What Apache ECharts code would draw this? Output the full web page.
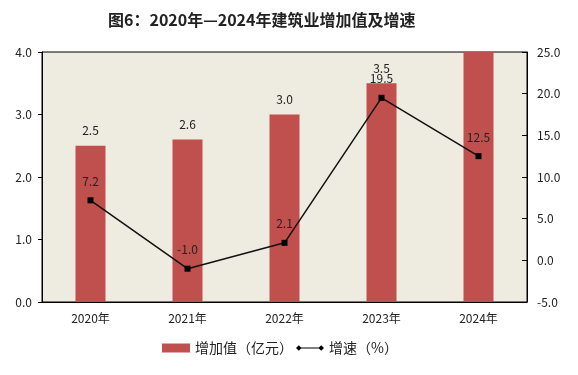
<!DOCTYPE html>
<html>
<head>
<meta charset="utf-8">
<script src="https://cdn.jsdelivr.net/npm/echarts@6/dist/echarts.min.js"></script>
<style>
  html, body { margin: 0; padding: 0; background: #fff; }
  #main { width: 578px; height: 375px; }
</style>
</head>
<body>
<div id="main"></div>
<script>
var years = ['2020年', '2021年', '2022年', '2023年', '2024年'];
var addedValue = [2.5, 2.6, 3.0, 3.5, 4.3];   // 亿元, 2024 bar runs past the top
var growthRate = [7.2, -1.0, 2.1, 19.5, 12.5]; // %

var font = '"Noto Sans CJK SC", sans-serif';
var chart = echarts.init(document.getElementById('main'));

var barData = addedValue.map(function (v, i) {
    // the 2024 label falls outside the plot in the source, so it is not drawn
    return i === addedValue.length - 1 ? { value: v, label: { show: false } } : v;
});

chart.setOption({
    animation: false,
    title: {
        text: '图6：2020年—2024年建筑业增加值及增速',
        left: 103,
        top: 7,
        textStyle: { fontFamily: font, fontSize: 16, fontWeight: 'bold', color: '#222' }
    },
    legend: {
        bottom: 15,
        left: 157,
        itemGap: 3,
        textStyle: { fontFamily: font, fontSize: 14, color: '#222' },
        data: [
            { name: '增加值（亿元）', icon: 'rect', itemStyle: { color: '#C0504D' } },
            {
                name: '增速（%）',
                icon: 'path://M0,4 L3,1 L6,4 L3,7 Z M3,3.4 L27,3.4 L27,4.6 L3,4.6 Z M24,4 L27,1 L30,4 L27,7 Z',
                itemStyle: { color: '#000' }
            }
        ],
        itemWidth: 28,
        itemHeight: 9
    },
    grid: {
        left: 42, right: 51, top: 52, bottom: 73,
        show: true,
        backgroundColor: '#EEEBE0',
        borderColor: '#000',
        borderWidth: 1
    },
    xAxis: {
        type: 'category',
        data: years,
        axisLine: { lineStyle: { color: '#000' } },
        axisTick: { inside: true, length: 4, lineStyle: { color: '#000' } },
        axisLabel: { fontFamily: font, fontSize: 12, color: '#222', margin: 10 }
    },
    yAxis: [
        {
            type: 'value', min: 0, max: 4, interval: 1,
            splitLine: { show: false },
            axisLine: { show: true, lineStyle: { color: '#000' } },
            axisTick: { show: true, length: 4, lineStyle: { color: '#000' } },
            axisLabel: {
                fontFamily: font, fontSize: 12, color: '#222', margin: 10,
                formatter: function (v) { return v.toFixed(1); }
            }
        },
        {
            type: 'value', min: -5, max: 25, interval: 5,
            splitLine: { show: false },
            axisLine: { show: true, lineStyle: { color: '#000' } },
            axisTick: { show: true, inside: true, length: 5, lineStyle: { color: '#000' } },
            axisLabel: {
                fontFamily: font, fontSize: 12, color: '#222', margin: 10,
                formatter: function (v) { return v.toFixed(1); }
            }
        }
    ],
    series: [
        {
            name: '增加值（亿元）',
            type: 'bar',
            barWidth: 30,
            clip: true,
            data: barData,
            itemStyle: { color: '#C0504D' },
            label: {
                show: true, position: 'top', distance: 9,
                fontFamily: font, fontSize: 12, color: '#222',
                formatter: function (p) { return p.value.toFixed(1); }
            }
        },
        {
            name: '增速（%）',
            type: 'line',
            yAxisIndex: 1,
            data: growthRate,
            symbol: 'rect',
            symbolSize: 6,
            lineStyle: { color: '#111', width: 1.5 },
            itemStyle: { color: '#000' },
            label: {
                show: true, position: 'top', distance: 10,
                fontFamily: font, fontSize: 12, color: '#222',
                formatter: function (p) { return p.value.toFixed(1); }
            }
        }
    ]
});
</script>
</body>
</html>
